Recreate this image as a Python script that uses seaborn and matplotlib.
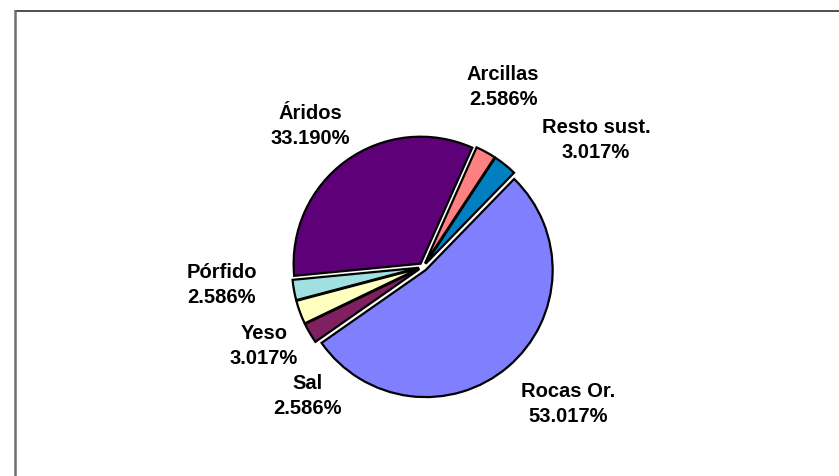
import matplotlib
matplotlib.use("Agg")
import matplotlib.pyplot as plt
from matplotlib.lines import Line2D
import seaborn as sns

categories = ["Arcillas", "Resto sust.", "Rocas Or.", "Sal", "Yeso", "Pórfido", "Áridos"]
values = [2.586, 3.017, 53.017, 2.586, 3.017, 2.586, 33.190]
colors = ["#FF8080", "#0080C0", "#8080FF", "#802060", "#FFFFC0", "#A0E0E0", "#5E0078"]

sns.set_theme(style="white")
plt.rcParams["font.family"] = ["Liberation Sans", "DejaVu Sans"]

W, H = 839, 477
fig = plt.figure(figsize=(W / 100, H / 100), dpi=100)
fig.patch.set_facecolor("white")

R = 127.0
cx, cy = 423.0, 268.0
ax = fig.add_axes([0, 0, 1, 1])

ax.pie(values, colors=colors, startangle=66, counterclock=False,
       explode=[0.032] * len(values), radius=1.0,
       wedgeprops=dict(edgecolor="black", linewidth=1.6))
ax.set_aspect("auto")
ax.set_xlim(-cx / R, (W - cx) / R)
ax.set_ylim(-(H - cy) / R, cy / R)
ax.axis("off")

# labels: (px x, px y) of text block centres
label_pos = {
    "Arcillas": (503, 87),
    "Resto sust.": (596, 140),
    "Rocas Or.": (568, 404),
    "Sal": (307, 396),
    "Yeso": (264, 346),
    "Pórfido": (222, 285),
    "Áridos": (310, 126),
}
for cat, val in zip(categories, values):
    px, py = label_pos[cat]
    fig.text(px / W, 1 - py / H, f"{cat}\n{val:.3f}%", ha="center", va="center",
             fontsize=14.5, fontweight="bold", color="black", linespacing=1.4)

# chart-area frame (top and left edges visible)
fig.add_artist(Line2D([14.5 / W, 1], [1 - 11.5 / H, 1 - 11.5 / H],
                      transform=fig.transFigure, color="#303030", linewidth=1.2))
fig.add_artist(Line2D([14.5 / W, 14.5 / W], [0, 1 - 11.5 / H],
                      transform=fig.transFigure, color="#707070", linewidth=1.8))

fig.savefig("out.png", dpi=100, facecolor="white")
